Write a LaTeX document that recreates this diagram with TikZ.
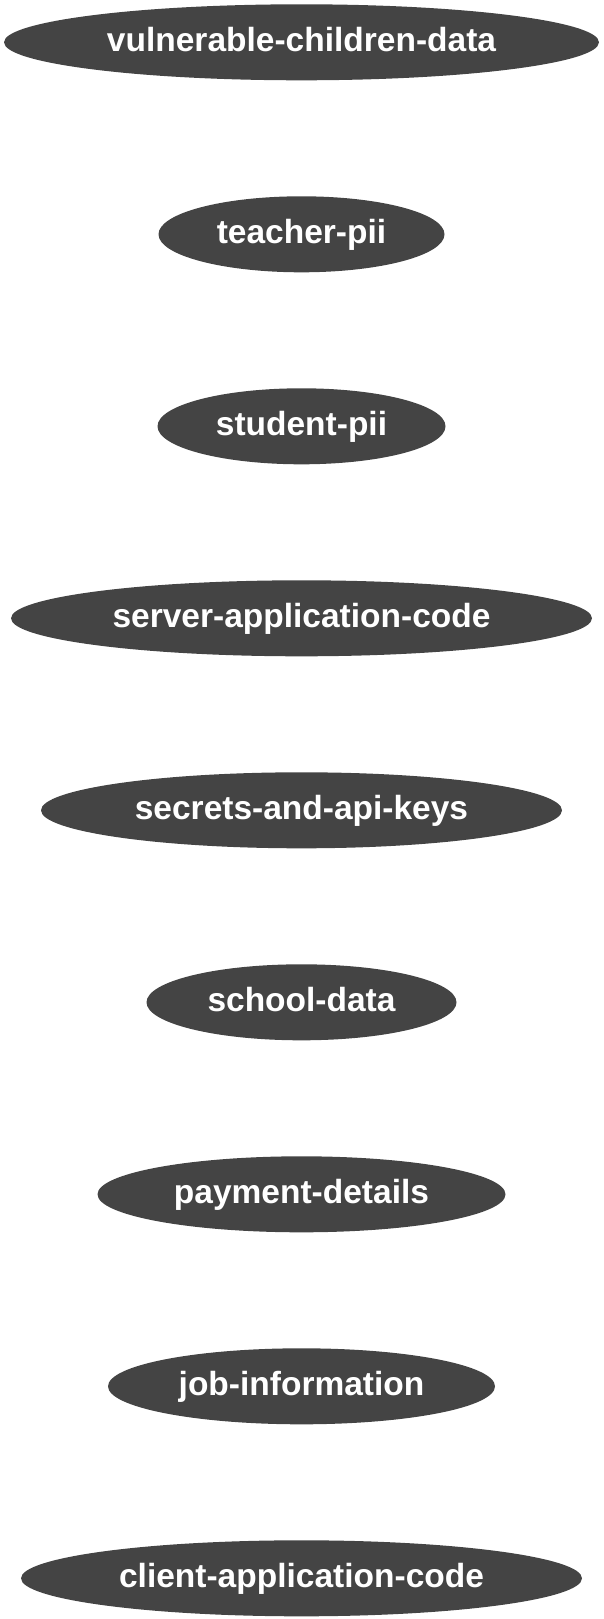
\documentclass[tikz,border=0pt]{standalone}
\usepackage{fontspec}
\setmainfont{Liberation Sans}
\usetikzlibrary{positioning,shapes.geometric}

\definecolor{assetgray}{HTML}{444444}

\begin{document}
\begin{tikzpicture}[x=1pt, y=-1pt,
    asset/.style={ellipse, fill=assetgray, text=white, inner sep=0pt,
      minimum height=76pt, text height=26pt, text depth=7pt,
      font=\bfseries\fontsize{33.5}{38}\selectfont},
    node distance=115.6pt]
  \useasboundingbox (0,0) rectangle (603,1619);
  \node[asset, minimum width=595pt] (vuln) at (301.5,42.3) {vulnerable-children-data};
  \node[asset, minimum width=286pt, below=of vuln] (teacher) {teacher-pii};
  \node[asset, minimum width=288pt, below=of teacher] (student) {student-pii};
  \node[asset, minimum width=581pt, below=of student] (server) {server-application-code};
  \node[asset, minimum width=521pt, below=of server] (secrets) {secrets-and-api-keys};
  \node[asset, minimum width=310pt, below=of secrets] (school) {school-data};
  \node[asset, minimum width=408pt, below=of school] (payment) {payment-details};
  \node[asset, minimum width=387pt, below=of payment] (job) {job-information};
  \node[asset, minimum width=561pt, below=of job] (client) {client-application-code};
\end{tikzpicture}
\end{document}
